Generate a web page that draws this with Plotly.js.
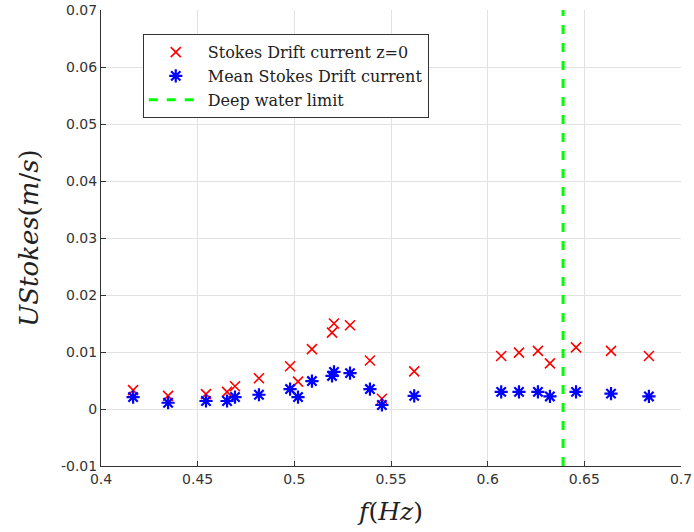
<!DOCTYPE html>
<html>
<head>
<meta charset="utf-8">
<script src="https://cdn.plot.ly/plotly-3.0.1.min.js"></script>
<style>body{margin:0;padding:0;background:#fff;} #chart{width:694px;height:532px;}</style>
</head>
<body>
<div id="chart"></div>
<script>
// Frequencies (Hz)
var freq = [0.4166, 0.4347, 0.4543, 0.4652, 0.4693, 0.4817, 0.4978, 0.5019, 0.5091, 0.5195, 0.5205, 0.5288, 0.5391, 0.5453, 0.562, 0.607, 0.6162, 0.626, 0.6322, 0.6457, 0.6638, 0.6834];
// Stokes drift current at z=0 (m/s)
var stokesSurface = [0.0033, 0.0023, 0.0026, 0.0030, 0.0040, 0.0054, 0.0075, 0.0048, 0.0105, 0.0134, 0.0150, 0.0147, 0.0085, 0.0018, 0.0066, 0.0093, 0.0099, 0.0102, 0.0080, 0.0108, 0.0102, 0.0093];
// Mean Stokes drift current (m/s)
var stokesMean = [0.0021, 0.0011, 0.0014, 0.0014, 0.0021, 0.0025, 0.0035, 0.0021, 0.0049, 0.0058, 0.0065, 0.0063, 0.0035, 0.0007, 0.0023, 0.0030, 0.0030, 0.0030, 0.0022, 0.0030, 0.0027, 0.0022];
// Deep water limit line
var deepX = [0.639, 0.639];
var deepY = [-0.01, 0.07];

var xTicks = [0.4, 0.45, 0.5, 0.55, 0.6, 0.65, 0.7];
var xTickText = ["0.4", "0.45", "0.5", "0.55", "0.6", "0.65", "0.7"];
var yTicks = [-0.01, 0, 0.01, 0.02, 0.03, 0.04, 0.05, 0.06, 0.07];
var yTickText = ["-0.01", "0", "0.01", "0.02", "0.03", "0.04", "0.05", "0.06", "0.07"];

var traces = [
  {x: freq, y: stokesSurface, mode: 'markers', type: 'scatter', name: 'Stokes Drift current z=0',
   marker: {symbol: 'x-thin-open', size: 10, color: '#ff0000', line: {color: '#ff0000', width: 1.6}}},
  {x: freq, y: stokesMean, mode: 'markers', type: 'scatter', name: 'Mean Stokes Drift current',
   marker: {symbol: 'asterisk-open', size: 11, color: '#0000ff', line: {color: '#0000ff', width: 2.2}}},
  {x: deepX, y: deepY, mode: 'lines', type: 'scatter', name: 'Deep water limit',
   line: {color: '#00ff00', width: 3, dash: 'dash'}}
];

var layout = {
  width: 694, height: 532,
  margin: {l: 101, r: 13, t: 10, b: 66},
  paper_bgcolor: '#fff', plot_bgcolor: '#fff',
  showlegend: true,
  legend: {x: 0.072, y: 0.947, xanchor: 'left', yanchor: 'top',
    bgcolor: '#fff', bordercolor: '#333', borderwidth: 1,
    font: {family: 'DejaVu Serif, serif', size: 16, color: '#222'},
    tracegroupgap: 0, itemwidth: 54},
  xaxis: {range: [0.4, 0.7], tickvals: xTicks, ticktext: xTickText,
    showgrid: true, gridcolor: '#e2e2e2', gridwidth: 1, zeroline: false,
    showline: true, linecolor: '#333', linewidth: 1, mirror: false,
    ticks: 'inside', ticklen: 5, tickcolor: '#333',
    tickfont: {family: 'DejaVu Sans, sans-serif', size: 14, color: '#333'},
    title: {text: '<i>f</i>(<i>Hz</i>)', font: {family: 'DejaVu Serif, serif', size: 25, color: '#222'}, standoff: 16}},
  yaxis: {range: [-0.01, 0.07], tickvals: yTicks, ticktext: yTickText,
    showgrid: true, gridcolor: '#e2e2e2', gridwidth: 1, zeroline: false,
    showline: true, linecolor: '#333', linewidth: 1, mirror: false,
    ticks: 'inside', ticklen: 5, tickcolor: '#333',
    tickfont: {family: 'DejaVu Sans, sans-serif', size: 14, color: '#333'},
    title: {text: '<i>UStokes</i>(<i>m</i>/<i>s</i>)', font: {family: 'DejaVu Serif, serif', size: 26, color: '#222'}, standoff: 14}}
};

Plotly.newPlot('chart', traces, layout, {displayModeBar: false, staticPlot: true});
</script>
</body>
</html>
